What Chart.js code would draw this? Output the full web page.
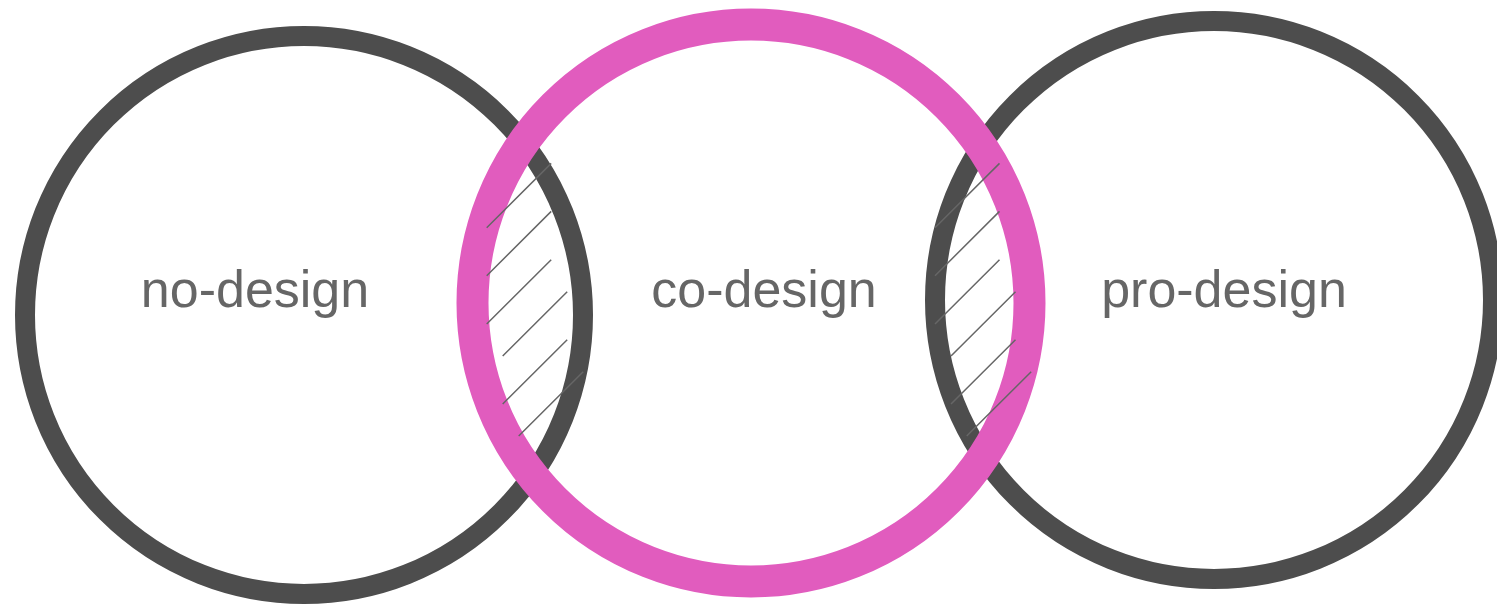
<!DOCTYPE html>
<html>
<head>
<meta charset="utf-8">
<script src="https://cdn.jsdelivr.net/npm/chart.js@4.4.1/dist/chart.umd.min.js"></script>
<style>
  html, body { margin: 0; padding: 0; background: #ffffff; overflow: hidden; }
  #wrap { width: 1497px; height: 604px; }
</style>
</head>
<body>
<div id="wrap"><canvas id="c" width="1497" height="604"></canvas></div>
<script>
// ---- data (diagram coordinates) ----
const circleNames = ['no-design', 'co-design', 'pro-design'];
const circleX = [304, 751, 1214];
const circleY = [315, 303, 300];
const circleR = [279, 278.5, 279];

const labelX = [255, 764, 1224];
const labelY = [307, 307, 307];

// hatch segments (start points; each runs up-right)
const hatchX0 = [486.7, 486.7, 486.7, 502.7, 502.7, 518.7, 935, 935, 935, 951, 951, 966.7];
const hatchY0 = [227.7, 275.7, 324, 356, 404, 436, 227.7, 275.7, 324, 356, 404, 436];
const hatchDX = 64.5;
const hatchDY = -64.3;

// ---- build datasets ----
const hatchData = [];
for (let i = 0; i < hatchX0.length; i++) {
  hatchData.push({ x: hatchX0[i], y: hatchY0[i] });
  hatchData.push({ x: hatchX0[i] + hatchDX, y: hatchY0[i] + hatchDY });
  hatchData.push({ x: hatchX0[i] + hatchDX, y: null });
}

const grayRings = [0, 2].map(i => ({ x: circleX[i], y: circleY[i], r: circleR[i] }));
const pinkRing = [{ x: circleX[1], y: circleY[1], r: circleR[1] }];

const labelPlugin = {
  id: 'labels',
  afterDatasetsDraw(chart) {
    const ctx = chart.ctx;
    const xs = chart.scales.x, ys = chart.scales.y;
    ctx.save();
    ctx.font = '52px "Liberation Sans", Arial, Helvetica, sans-serif';
    ctx.fillStyle = '#666666';
    ctx.textAlign = 'center';
    ctx.textBaseline = 'alphabetic';
    circleNames.forEach((n, i) => {
      ctx.fillText(n, xs.getPixelForValue(labelX[i]), ys.getPixelForValue(labelY[i]));
    });
    ctx.restore();
  }
};

new Chart(document.getElementById('c'), {
  data: {
    datasets: [
      {
        type: 'line',
        data: hatchData,
        borderColor: '#666666',
        borderWidth: 1.5,
        pointRadius: 0,
        spanGaps: false,
        fill: false,
        order: 0,
        clip: false
      },
      {
        type: 'bubble',
        data: pinkRing,
        backgroundColor: 'rgba(0,0,0,0)',
        borderColor: '#e15cbe',
        borderWidth: 32,
        order: 1,
        clip: false
      },
      {
        type: 'bubble',
        data: grayRings,
        backgroundColor: 'rgba(0,0,0,0)',
        borderColor: '#4d4d4d',
        borderWidth: 20,
        order: 2,
        clip: false
      }
    ]
  },
  options: {
    responsive: false,
    devicePixelRatio: 1,
    animation: false,
    events: [],
    layout: { padding: 0, autoPadding: false },
    plugins: { legend: { display: false }, tooltip: { enabled: false }, title: { display: false } },
    scales: {
      x: { type: 'linear', min: 0, max: 1497, display: false },
      y: { type: 'linear', min: 0, max: 604, reverse: true, display: false }
    }
  },
  plugins: [labelPlugin]
});
</script>
</body>
</html>
